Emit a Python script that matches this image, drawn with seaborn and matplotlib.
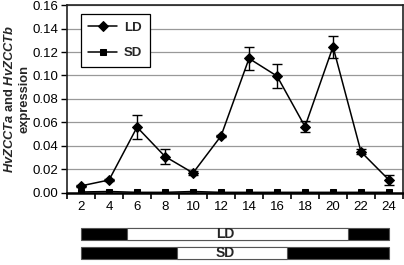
import matplotlib
matplotlib.use("Agg")
import matplotlib.pyplot as plt
import seaborn as sns
import pandas as pd

hours = [2, 4, 6, 8, 10, 12, 14, 16, 18, 20, 22, 24]
ld_expr = [0.006, 0.011, 0.056, 0.031, 0.017, 0.0485, 0.1145, 0.0995, 0.0565, 0.1245, 0.035, 0.011]
ld_err = [0.001, 0.001, 0.010, 0.006, 0.0015, 0.001, 0.0095, 0.0105, 0.005, 0.0095, 0.002, 0.004]
sd_expr = [0.0008, 0.0012, 0.0005, 0.0005, 0.0012, 0.0005, 0.0005, 0.0005, 0.0005, 0.0005, 0.0005, 0.0005]

day_span = (2, 24)
ld_light = (5.3, 21.1)
sd_light = (8.85, 16.7)

sns.set_style("white")
plt.rcParams['font.family'] = ['Liberation Sans', 'DejaVu Sans']
plt.rcParams['mathtext.fontset'] = 'custom'
plt.rcParams['mathtext.it'] = 'Liberation Sans:bold:italic'
plt.rcParams['mathtext.rm'] = 'Liberation Sans:bold'

df = pd.DataFrame({'hour': hours * 2,
                   'expr': ld_expr + sd_expr,
                   'cond': ['LD'] * len(hours) + ['SD'] * len(hours)})

fig = plt.figure(figsize=(4.04, 2.65), dpi=100)
ax = fig.add_axes([0.166, 0.272, 0.8315, 0.709])

ax.errorbar(hours, ld_expr, yerr=ld_err, fmt='none', ecolor='black',
            elinewidth=1.0, capsize=3.5, capthick=1.0, zorder=3)
sns.lineplot(data=df, x='hour', y='expr', hue='cond', style='cond',
             markers={'LD': 'D', 'SD': 's'}, dashes=False,
             palette={'LD': 'black', 'SD': 'black'},
             markersize=5, linewidth=1.1, markeredgecolor='black',
             ax=ax, zorder=4)

ax.set_xlim(1, 25)
ax.set_ylim(0, 0.16)
ax.set_yticks([0, 0.02, 0.04, 0.06, 0.08, 0.10, 0.12, 0.14, 0.16])
ax.set_yticklabels(['0.00', '0.02', '0.04', '0.06', '0.08', '0.10', '0.12', '0.14', '0.16'])
ax.set_xticks(hours)
ax.set_xticklabels([str(h) for h in hours])
ax.set_xticks(list(range(1, 26, 2)), minor=True)
ax.tick_params(axis='x', which='major', length=0, labelsize=9.5, pad=6, colors='black')
ax.tick_params(axis='x', which='minor', length=4, width=1.2, direction='out', bottom=True, color='black')
ax.tick_params(axis='y', length=4, width=1, direction='out', left=True, labelsize=9.5,
               pad=2, colors='black')
ax.yaxis.grid(True, color='#999999', linewidth=0.9)
ax.set_axisbelow(True)
for s in ax.spines.values():
    s.set_color('#222222')
    s.set_linewidth(1.2)
ax.spines['bottom'].set_linewidth(1.8)
ax.spines['bottom'].set_color('black')

ax.set_xlabel('')
ax.set_ylabel(r'$\mathit{HvZCCTa}$ and $\mathit{HvZCCTb}$' + '\nexpression',
              fontsize=9.3, fontweight='bold', linespacing=1.2, labelpad=2)

leg = ax.legend(loc='upper left', bbox_to_anchor=(0.04, 0.953), frameon=True,
                fancybox=False, edgecolor='black', framealpha=1,
                prop={'weight': 'bold', 'size': 9.5}, labelspacing=1.0,
                handlelength=2.2, borderpad=0.6, handletextpad=0.5,
                borderaxespad=0)
leg.get_frame().set_linewidth(0.9)

# light/dark bars
bax = fig.add_axes([0.166, 0.0, 0.8315, 0.16])
bax.set_xlim(1, 25)
bax.set_ylim(-0.6, 1.6)
bax.axis('off')
for ypos, light, label in [(1, ld_light, 'LD'), (0, sd_light, 'SD')]:
    bax.barh(ypos, day_span[1] - day_span[0], left=day_span[0], height=0.62,
             color='black', edgecolor='#555555', linewidth=0.8)
    bax.barh(ypos, light[1] - light[0], left=light[0], height=0.62,
             color='white', edgecolor='#555555', linewidth=0.8)
    bax.text(12.3, ypos, label, ha='center', va='center',
             fontsize=10, fontweight='bold')

fig.savefig('out.png', dpi=100)
